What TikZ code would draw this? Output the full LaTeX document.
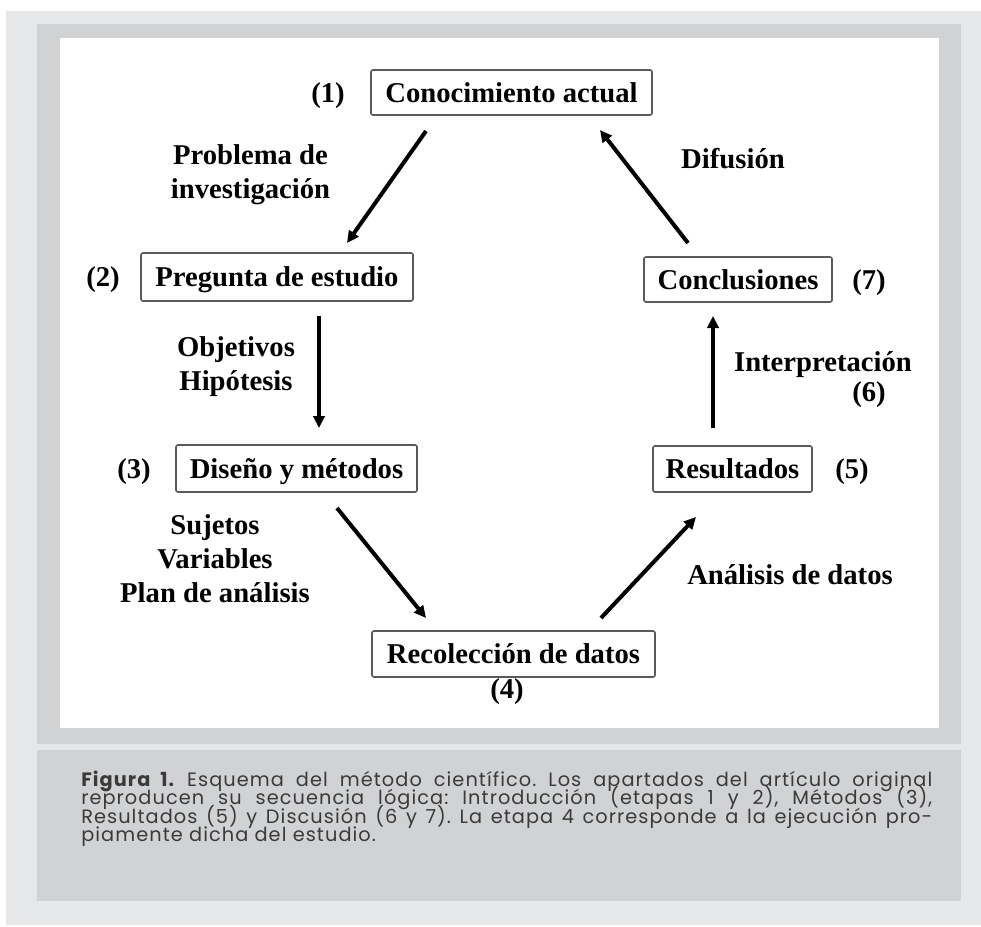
\documentclass[tikz,border=0pt]{standalone}
\usepackage{fontspec}
\setmainfont{Liberation Serif}
\newfontfamily\capfont[LetterSpace=5.5]{Poppins}
\usetikzlibrary{arrows.meta}
\definecolor{outerg}{HTML}{E6E7E8}
\definecolor{panelg}{HTML}{D1D2D4}
\definecolor{boxline}{HTML}{5A5A5A}
\definecolor{captxt}{HTML}{3A3A3A}
\begin{document}
\begin{tikzpicture}[x=0.75pt,y=-0.75pt,
  stage/.style={draw=boxline, line width=1.2pt, rounded corners=1.5pt, fill=white, inner sep=0pt, text height=14.6pt, text depth=0pt, font=\bfseries\fontsize{21.5}{25.5}\selectfont},
  lbl/.style={font=\bfseries\fontsize{21.5}{25.5}\selectfont, align=center, inner sep=0pt},
  num/.style={font=\bfseries\fontsize{21.5}{25.5}\selectfont, inner sep=0pt, anchor=base},
  flow/.style={line width=3pt, -{Triangle[length=9pt,width=8.5pt]}},
  capline/.style={anchor=base west, inner sep=0pt, text=captxt, font=\capfont\frenchspacing\fontsize{14.5}{15}\selectfont}]
\useasboundingbox (0,0) rectangle (981,927);
\fill[white] (0,0) rectangle (981,927);
\fill[outerg] (6,11) rectangle (981,925);
\fill[panelg] (37,24) rectangle (961,744);
\fill[white] (60,38) rectangle (939,728);
\fill[panelg] (37,750) rectangle (961,901);

\node[stage, minimum width=210.75pt, minimum height=33.75pt] (s1) at (511.5,92.5) {Conocimiento actual};
\node[stage, minimum width=204pt, minimum height=36pt] (s2) at (277,277) {Pregunta de estudio};
\node[stage, minimum width=180.75pt, minimum height=35.25pt] (s3) at (296.5,468.5) {Diseño y métodos};
\node[stage, minimum width=212.25pt, minimum height=34.5pt] (s4) at (513.5,654) {Recolección de datos};
\node[stage, minimum width=119.25pt, minimum height=34.5pt] (s5) at (732.5,469) {Resultados};
\node[stage, minimum width=141pt, minimum height=33.75pt] (s7) at (738,279.5) {Conclusiones};

\node[num] (n1) at (s1.base -| 328,0) {(1)};
\node[num] (n2) at (s2.base -| 103,0) {(2)};
\node[num] (n3) at (s3.base -| 134,0) {(3)};
\node[num] (n5) at (s5.base -| 852,0) {(5)};
\node[num] (n7) at (s7.base -| 869,0) {(7)};
\node[num] (n4) at (507,698) {(4)};
\node[num] (n6) at (869,401) {(6)};

\node[lbl] (l1) at (250.5,175) {Problema de\\investigación};
\node[lbl] (l2) at (236,367) {Objetivos\\Hipótesis};
\node[lbl] (l3) at (215,559) {Sujetos\\Variables\\Plan de análisis};
\node[num] (l4) at (790,584) {Análisis de datos};
\node[num] (l6) at (823,371) {Interpretación};
\node[num] (l7) at (733,169) {Difusión};

\coordinate (a1s) at (426,131); \coordinate (a1e) at (347,243);
\coordinate (a2s) at (319,316); \coordinate (a2e) at (319,428);
\coordinate (a3s) at (337,508); \coordinate (a3e) at (426,618);
\coordinate (a4s) at (601,618); \coordinate (a4e) at (696,517);
\coordinate (a5s) at (713,428); \coordinate (a5e) at (713,316);
\coordinate (a6s) at (688,243); \coordinate (a6e) at (600,130);
\draw[flow] (a1s) -- (a1e);
\draw[flow] (a2s) -- (a2e);
\draw[flow] (a3s) -- (a3e);
\draw[flow] (a4s) -- (a4e);
\draw[flow] (a5s) -- (a5e);
\draw[flow] (a6s) -- (a6e);

\node[capline] (c1) at (81,786) {\makebox[638.25pt][s]{\textbf{Figura 1.} Esquema del método científico. Los apartados del artículo original}};
\node[capline] (c2) at (81,804.5) {\makebox[638.25pt][s]{reproducen su secuencia lógica: Introducción (etapas 1 y 2), Métodos (3),}};
\node[capline] (c3) at (81,823) {\makebox[638.25pt][s]{Resultados (5) y Discusión (6 y 7). La etapa 4 corresponde a la ejecución pro-}};
\node[capline] (c4) at (81,841.5) {piamente dicha del estudio.};
\end{tikzpicture}
\end{document}
